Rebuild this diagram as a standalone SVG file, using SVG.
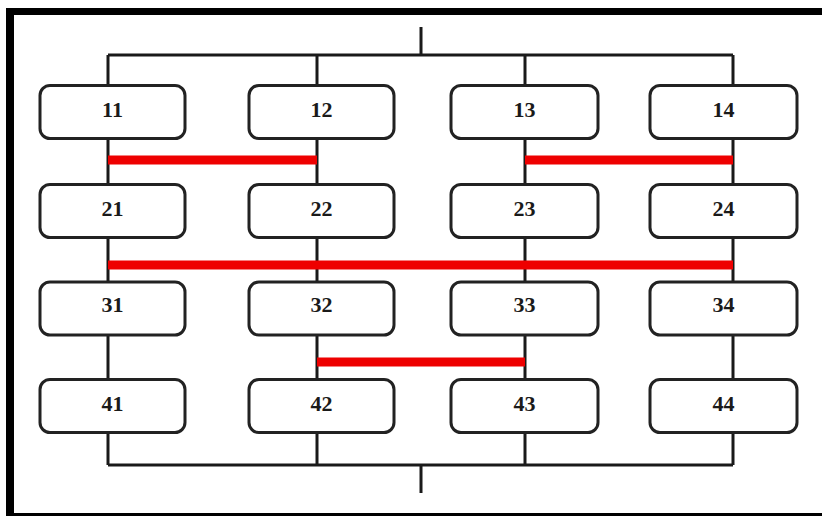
<svg xmlns="http://www.w3.org/2000/svg" width="822" height="516" viewBox="0 0 822 516">
<style>
.box{fill:#fff;stroke:#222;stroke-width:3}
.lbl{font-family:"Liberation Serif","Times New Roman",serif;font-weight:bold;font-size:22px;fill:#1a1a1a;text-anchor:middle}
.wire{stroke:#1a1a1a;stroke-width:3;fill:none}
.red{stroke:#ee0000;stroke-width:9;fill:none}
</style>
<rect width="822" height="516" fill="#fff"/>
<g id="frame" fill="#000">
<rect x="6" y="8" width="816" height="7"/>
<rect x="6" y="8" width="8" height="508"/>
<rect x="6" y="513" width="816" height="3"/>
</g>
<g id="connectors">
<path class="wire" d="M108 55H733M421 27V55M108 465H733M421 465V493M108 55V465M317 55V465M525 55V465M733 55V465"/>
<path class="red" d="M108 160H317M525 160H733M108 265H733M317 362H525"/>
</g>
<g id="n11"><rect class="box" x="40" y="85.5" width="145" height="53" rx="10"/><text class="lbl" x="112.5" y="116.5">11</text></g>
<g id="n12"><rect class="box" x="249" y="85.5" width="145" height="53" rx="10"/><text class="lbl" x="321.5" y="116.5">12</text></g>
<g id="n13"><rect class="box" x="451" y="85.5" width="147" height="53" rx="10"/><text class="lbl" x="524.5" y="116.5">13</text></g>
<g id="n14"><rect class="box" x="650" y="85.5" width="147" height="53" rx="10"/><text class="lbl" x="723.5" y="116.5">14</text></g>
<g id="n21"><rect class="box" x="40" y="184.5" width="145" height="53" rx="10"/><text class="lbl" x="112.5" y="216">21</text></g>
<g id="n22"><rect class="box" x="249" y="184.5" width="145" height="53" rx="10"/><text class="lbl" x="321.5" y="216">22</text></g>
<g id="n23"><rect class="box" x="451" y="184.5" width="147" height="53" rx="10"/><text class="lbl" x="524.5" y="216">23</text></g>
<g id="n24"><rect class="box" x="650" y="184.5" width="147" height="53" rx="10"/><text class="lbl" x="723.5" y="216">24</text></g>
<g id="n31"><rect class="box" x="40" y="282" width="145" height="53" rx="10"/><text class="lbl" x="112.5" y="311.5">31</text></g>
<g id="n32"><rect class="box" x="249" y="282" width="145" height="53" rx="10"/><text class="lbl" x="321.5" y="311.5">32</text></g>
<g id="n33"><rect class="box" x="451" y="282" width="147" height="53" rx="10"/><text class="lbl" x="524.5" y="311.5">33</text></g>
<g id="n34"><rect class="box" x="650" y="282" width="147" height="53" rx="10"/><text class="lbl" x="723.5" y="311.5">34</text></g>
<g id="n41"><rect class="box" x="40" y="379.5" width="145" height="53" rx="10"/><text class="lbl" x="112.5" y="411">41</text></g>
<g id="n42"><rect class="box" x="249" y="379.5" width="145" height="53" rx="10"/><text class="lbl" x="321.5" y="411">42</text></g>
<g id="n43"><rect class="box" x="451" y="379.5" width="147" height="53" rx="10"/><text class="lbl" x="524.5" y="411">43</text></g>
<g id="n44"><rect class="box" x="650" y="379.5" width="147" height="53" rx="10"/><text class="lbl" x="723.5" y="411">44</text></g>
</svg>
